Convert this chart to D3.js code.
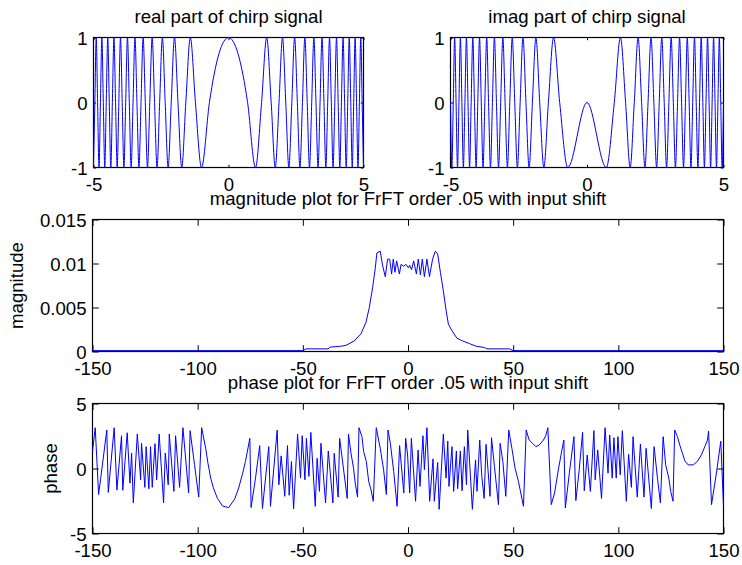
<!DOCTYPE html>
<html><head><meta charset="utf-8">
<script src="https://cdn.jsdelivr.net/npm/d3@7"></script>
<style>body{margin:0;background:#fff}</style>
</head><body>
<svg id="c" width="742" height="565" style="background:#fff"></svg>
<script>
// ---------------- DATA ----------------
const chirpT = [-5,-4.95,-4.899,-4.848,-4.796,-4.743,-4.69,-4.637,-4.583,-4.528,-4.472,-4.416,-4.359,-4.301,-4.243,-4.183,-4.123,-4.062,-4,-3.937,-3.873,-3.808,-3.742,-3.674,-3.606,-3.536,-3.464,-3.391,-3.317,-3.24,-3.162,-3.082,-3,-2.915,-2.828,-2.739,-2.646,-2.55,-2.449,-2.345,-2.236,-2.121,-2,-1.871,-1.732,-1.581,-1.414,-1.225,-1,-0.707,0,0.707,1,1.225,1.414,1.581,1.732,1.871,2,2.121,2.236,2.345,2.449,2.55,2.646,2.739,2.828,2.915,3,3.082,3.162,3.24,3.317,3.391,3.464,3.536,3.606,3.674,3.742,3.808,3.873,3.937,4,4.062,4.123,4.183,4.243,4.301,4.359,4.416,4.472,4.528,4.583,4.637,4.69,4.743,4.796,4.848,4.899,4.95,5];
const chirpReal = [-1,0,1,0,-1,0,1,0,-1,0,1,0,-1,0,1,0,-1,0,1,0,-1,0,1,0,-1,0,1,0,-1,0,1,0,-1,0,1,0,-1,0,1,0,-1,0,1,0,-1,0,1,0,-1,0,1,
  0,-1,0,1,0,-1,0,1,0,-1,0,1,0,-1,0,1,0,-1,0,1,0,-1,0,1,0,-1,0,1,0,-1,0,1,0,-1,0,1,0,-1,0,1,0,-1,0,1,0,-1,0,1,0,-1];
const chirpImag = [0,-1,0,1,0,-1,0,1,0,-1,0,1,0,-1,0,1,0,-1,0,1,0,-1,0,1,0,-1,0,1,0,-1,0,1,0,-1,0,1,0,-1,0,1,0,-1,0,1,0,-1,0,1,0,-1,0,
  -1,0,1,0,-1,0,1,0,-1,0,1,0,-1,0,1,0,-1,0,1,0,-1,0,1,0,-1,0,1,0,-1,0,1,0,-1,0,1,0,-1,0,1,0,-1,0,1,0,-1,0,1,0,-1,0];

const magPoints = [[-150,0.0001],[-50,0.0001],[-48.5,0.0003],[-38,0.0003],[-37,0.0005],[-32,0.0006],[-29.5,0.0007],[-25.6,0.0012],[-22.4,0.0020],[-20,0.0033],[-18.4,0.0050],[-16.8,0.0073],[-15.6,0.0094],[-14.8,0.0112],[-13.2,0.0114],[-12.1,0.0098],[-10.8,0.0085],[-9.7,0.0105],[-8.7,0.0105],[-7.8,0.0088],[-7.0,0.0105],[-6.2,0.0090],[-5.4,0.0103],[-4.1,0.0088],[-3.3,0.0099],[-2.1,0.0097],[-1.0,0.0099],[0.2,0.0095],[0.8,0.0098],[1.7,0.0093],[2.7,0.0103],[4.0,0.0088],[4.9,0.0105],[5.9,0.0087],[6.8,0.0105],[7.8,0.0085],[9.0,0.0105],[10.2,0.0085],[11.7,0.0105],[13.0,0.0114],[14.1,0.0111],[15.4,0.0090],[16.8,0.0069],[18.1,0.0047],[19.2,0.0031],[20.8,0.0024],[23.3,0.0015],[26.0,0.0012],[29.2,0.0009],[32.4,0.0006],[36.4,0.00045],[37.5,0.0003],[48.3,0.0003],[50,0.0001],[150,0.0001]];

const phasePoints = [[-150,1.30],[-148.7,3.14],[-147.1,-2.0],[-146.2,-0.87],[-143.2,2.96],[-142.5,-1.84],[-139.7,3.14],[-138.4,-1.66],[-136.2,2.52],[-135.6,-1.68],[-133.5,2.75],[-132.2,-1.12],[-131.4,1.19],[-130.6,-2.65],[-128.7,2.65],[-127.1,-0.87],[-126.7,1.94],[-125.1,-1.45],[-124.5,1.68],[-123.2,-1.56],[-122.4,1.68],[-121.6,-1.45],[-120.3,1.91],[-119.5,-0.87],[-118.3,2.65],[-116.2,-2.65],[-115.4,1.19],[-114.0,-1.25],[-113.5,2.65],[-111.3,-1.76],[-110.5,2.52],[-108.6,-1.45],[-107.0,3.14],[-104.3,-1.88],[-103.6,2.91],[-101.5,0.3],[-99.5,-2.2],[-98.1,3.14],[-96.2,1.56],[-95.1,0.4],[-93.8,-0.74],[-92.5,-1.5],[-90.6,-2.3],[-88.1,-2.9],[-85.2,-3.0],[-83.7,-2.65],[-82.4,-2.35],[-80.5,-1.5],[-78.6,-0.36],[-77.3,0.53],[-75.2,2.32],[-74.6,-3.0],[-72.5,-0.74],[-70.5,1.76],[-69.2,-3.08],[-66.2,1.68],[-65.4,-2.91],[-62.2,2.96],[-61.4,-1.25],[-60.3,0.97],[-58.6,-2.14],[-57.3,1.76],[-56.5,-2.06],[-55.4,0.53],[-54.4,-3.11],[-52.5,2.65],[-51.1,-0.74],[-50.3,2.52],[-49.0,-0.87],[-48.3,2.32],[-47.1,-0.61],[-46.2,2.78],[-44.1,-2.91],[-43.2,0.79],[-42.1,-1.76],[-41.4,1.94],[-39.2,-2.65],[-37.9,1.35],[-35.7,-2.65],[-35.1,1.17],[-33.2,-2.2],[-32.5,2.32],[-28.9,-2.3],[-28.3,2.65],[-27.1,1.17],[-25.9,0.03],[-25.1,-1.12],[-24.0,-2.2],[-23.3,3.14],[-21.9,2.45],[-21.1,1.30],[-19.8,0.53],[-18.7,-0.99],[-17.6,-1.63],[-16.5,-2.52],[-15.1,3.14],[-13.2,1.55],[-11.6,-0.10],[-10.3,-2.0],[-9.5,2.96],[-8.4,1.94],[-6.8,-0.23],[-5.2,-2.91],[-4.0,1.76],[-2.0,-1.88],[-1.1,2.32],[-0.2,1.04],[0.8,-1.88],[1.6,2.32],[3.6,-2.52],[4.8,1.43],[5.7,-1.38],[7.1,2.52],[7.8,-0.10],[9.0,3.14],[10.3,-2.52],[11.9,0.74],[12.5,-2.52],[14.1,0.46],[14.8,-3.14],[16.8,2.65],[18.1,-0.74],[18.9,2.1],[19.5,-1.38],[20.9,1.68],[21.7,-1.76],[23.0,1.35],[23.6,-1.56],[24.9,1.35],[25.7,-1.71],[26.8,1.68],[27.8,-1.25],[28.4,2.96],[30.6,-3.14],[32.1,0.66],[32.8,-1.76],[34.1,2.19],[35.1,-0.61],[36.2,-2.3],[37.1,1.86],[39.0,-2.14],[39.7,2.37],[41.1,0.15],[43.0,-2.78],[43.8,1.94],[45.1,0.53],[46.5,-2.14],[47.9,2.96],[49.4,1.55],[50.9,0.03],[52.5,-0.99],[54.9,-2.91],[56.2,2.96],[57.6,2.19],[59.2,1.94],[60.8,1.68],[62.4,1.81],[64.4,2.19],[65.5,2.52],[66.5,3.14],[68.1,-2.78],[69.7,-1.88],[71.6,0.03],[73.2,1.43],[74.1,2.19],[74.8,-3.04],[76.7,-0.36],[78.9,2.45],[79.8,-2.47],[81.4,-0.10],[83.0,2.78],[83.8,-1.71],[85.2,1.04],[86.7,-1.76],[88.4,2.91],[89.0,-0.87],[90.2,1.43],[92.0,-2.3],[93.7,3.14],[95.1,-0.36],[95.9,2.58],[97.1,-0.74],[97.9,2.37],[99.0,-0.74],[99.8,2.45],[100.9,-0.48],[101.9,2.91],[103.8,-2.52],[104.9,1.09],[106.2,-1.45],[107.0,2.45],[109.0,-2.2],[110.5,1.89],[112.2,-2.2],[113.2,1.55],[115.7,-3.08],[117.0,1.68],[118.6,-0.74],[120.0,-2.65],[121.3,2.45],[122.5,0.28],[124.0,-0.74],[124.9,-1.76],[126.0,-2.52],[126.8,2.96],[128.1,2.45],[129.2,1.81],[130.5,1.17],[131.6,0.59],[133.2,0.28],[135.6,0.28],[137.5,0.53],[139.5,1.04],[141.1,1.68],[142.4,2.19],[142.9,2.88],[144.3,-2.78],[146.5,-0.5],[148.7,2.1],[150,-2.9]];

const chirpXTicks = [-5, 0, 5];
const chirpYTicks = [-1, 0, 1];
const specXTicks = [-150, -100, -50, 0, 50, 100, 150];
const magYTicks = [0, 0.005, 0.01, 0.015];
const magYLabels = ["0", "0.005", "0.01", "0.015"];
const phaseYTicks = [-5, 0, 5];
const titles = ["real part of chirp signal", "imag part of chirp signal",
  "magnitude plot for FrFT order .05 with input shift", "phase plot for FrFT order .05 with input shift"];
const yLabels = ["magnitude", "phase"];

// ---------------- DRAW ----------------
const FONT = '"Liberation Sans", Arial, Helvetica, sans-serif';
const FS = 18.6;
const svg = d3.select("#c");
svg.append("rect").attr("width", 742).attr("height", 565).attr("fill", "#fff");

function panel(b, xd, yd, xt, yt, yfmt, title, ylab, ylabX, pts, curve) {
  const x = d3.scaleLinear().domain(xd).range([b.l, b.r]);
  const y = d3.scaleLinear().domain(yd).range([b.b, b.t]);
  const tl = 0.01 * Math.max(b.r - b.l, b.b - b.t);
  const g = svg.append("g");
  const styleAxis = s => { s.select(".domain").remove(); s.attr("font-size", FS).attr("font-family", FONT); s.selectAll("line").attr("stroke", "#000"); };
  g.append("g").attr("transform", `translate(0,${b.b})`)
    .call(d3.axisBottom(x).tickValues(xt).tickSize(-tl).tickPadding(10.5).tickFormat(d => String(d))).call(styleAxis);
  g.append("g").attr("transform", `translate(0,${b.t})`)
    .call(d3.axisTop(x).tickValues(xt).tickSize(-tl).tickFormat("")).call(styleAxis);
  g.append("g").attr("transform", `translate(${b.l},0)`)
    .call(d3.axisLeft(y).tickValues(yt).tickSize(-tl).tickPadding(6).tickFormat(yfmt)).call(styleAxis)
    .selectAll("text").attr("dy", "0.38em");
  g.append("g").attr("transform", `translate(${b.r},0)`)
    .call(d3.axisRight(y).tickValues(yt).tickSize(-tl).tickFormat("")).call(styleAxis);
  g.append("rect").attr("x", b.l).attr("y", b.t).attr("width", b.r - b.l).attr("height", b.b - b.t)
    .attr("fill", "none").attr("stroke", "#000").attr("stroke-width", 1.2);
  g.append("path").datum(pts)
    .attr("d", d3.line().x(d => x(d[0])).y(d => y(d[1])).curve(curve))
    .attr("fill", "none").attr("stroke", "#0000ff").attr("stroke-width", 1);
  g.append("text").attr("x", (b.l + b.r) / 2).attr("y", b.t - 15).attr("text-anchor", "middle")
    .attr("font-family", FONT).attr("font-size", FS).text(title);
  if (ylab) {
    g.append("text").attr("transform", `translate(${ylabX},${(b.t + b.b) / 2}) rotate(-90)`)
      .attr("text-anchor", "middle").attr("font-family", FONT).attr("font-size", FS).text(ylab);
  }
}

const realPts = chirpT.map((t, i) => [t, chirpReal[i]]);
const imagPts = chirpT.map((t, i) => [t, chirpImag[i]]);

panel({l: 93.5, r: 363.5, t: 37.5, b: 167.5}, [-5, 5], [-1, 1], chirpXTicks, chirpYTicks, d => String(d),
  titles[0], null, 0, realPts, d3.curveMonotoneX);
panel({l: 450.5, r: 723.5, t: 37.5, b: 167.5}, [-5, 5], [-1, 1], chirpXTicks, chirpYTicks, d => String(d),
  titles[1], null, 0, imagPts, d3.curveMonotoneX);
panel({l: 92.5, r: 723.5, t: 219.5, b: 351.5}, [-150, 150], [0, 0.015], specXTicks, magYTicks,
  d => magYLabels[magYTicks.indexOf(d)], titles[2], yLabels[0], 23, magPoints, d3.curveLinear);
panel({l: 92.5, r: 723.5, t: 403.5, b: 533.5}, [-150, 150], [-5, 5], specXTicks, phaseYTicks, d => String(d),
  titles[3], yLabels[1], 57, phasePoints, d3.curveLinear);
</script>
</body></html>
